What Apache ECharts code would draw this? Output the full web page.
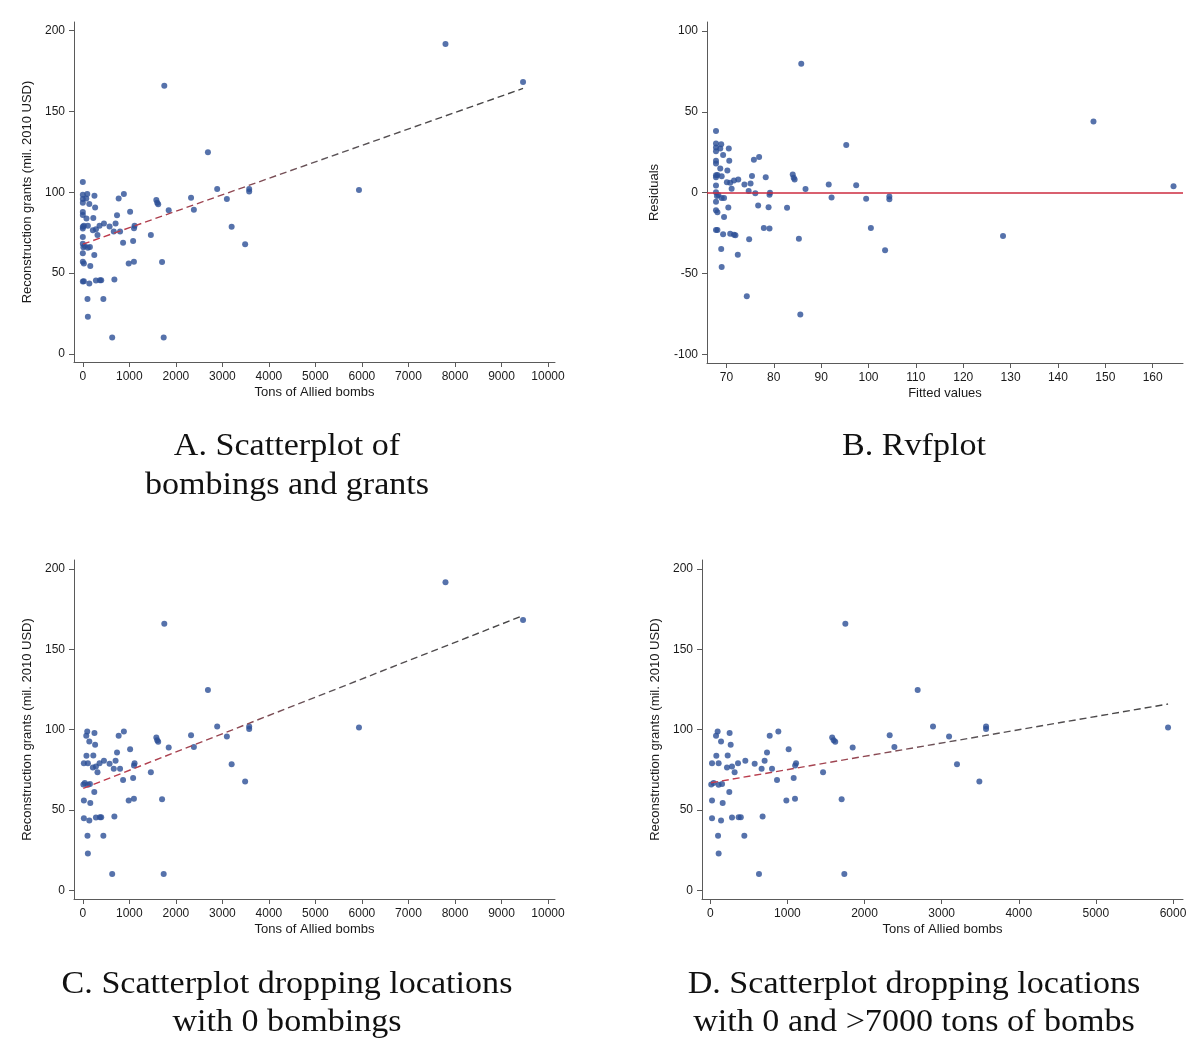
<!DOCTYPE html>
<html>
<head>
<meta charset="utf-8">
<title>Bombings and reconstruction grants</title>
<script src="https://cdn.jsdelivr.net/npm/echarts@6/dist/echarts.min.js"></script>
<style>
    html, body { margin: 0; padding: 0; background: #fff; }
    #chart { width: 1192px; height: 1038px; }
</style>
</head>
<body>
<div id="chart"></div>
<script>
(function (window, echarts) {
    'use strict';

    // grants (mil. 2010 USD) of locations with 0 tons of bombs
    const zeroGrants = [106.3, 98.5, 95.8, 93.5, 87.8, 85.9, 78.7, 77.5, 72.3, 68.2, 62.3, 57.0, 44.8];

    // bombed locations up to 7000 tons
    const bombTons = [95, 74, 250, 139, 264, 770, 882, 78, 225, 22, 108, 216, 281, 315, 359, 454,
        575, 665, 704, 735, 1016, 800, 865, 1112, 1100, 1081, 986, 1098, 43, 108, 152, 246, 22,
        160, 22, 139, 281, 367, 395, 678, 100, 441, 108, 631, 1738, 1462, 1580, 1600, 1620, 1846,
        1703, 1751, 2326, 2387, 2689, 2888, 3096, 3199, 3489, 3576, 3576, 5936, 12];
    const bombGrants = [98.9, 96.2, 97.9, 92.7, 90.6, 96.2, 98.9, 83.8, 84.0, 79.2, 79.2, 76.5, 77.1,
        73.6, 79.2, 80.7, 78.8, 75.7, 80.7, 85.8, 87.9, 75.7, 68.8, 79.2, 77.8, 69.9, 56.0, 57.0,
        66.8, 65.7, 66.2, 61.2, 56.0, 54.4, 45.0, 43.5, 45.4, 45.6, 45.6, 46.0, 34.0, 34.0, 23.0,
        10.2, 10.2, 73.6, 95.2, 93.5, 92.5, 88.9, 56.8, 165.9, 96.6, 89.2, 124.8, 102.0, 95.8,
        78.6, 67.8, 102.0, 100.4, 101.4, 66.0];

    // locations with more than 7000 tons
    const heavyTons = [7796, 9463];
    const heavyGrants = [191.7, 168.2];

    // fitted lines, end points
    const fitTonsA = [0, 9463];
    const fitGrantsA = [67.9, 164.2];
    const fitTonsC = [9, 9463];
    const fitGrantsC = [63.5, 171.0];
    const fitTonsD = [9, 5936];
    const fitGrantsD = [67.0, 116.0];

    // residuals versus fitted values (panel B)
    const rvfFitted = [85.8, 67.8, 67.8, 68.9, 67.8, 68.7, 70.5, 67.8, 69.3, 70.6, 67.8, 67.8, 68.7,
        70.2, 68.1, 69.0, 67.8, 67.8, 70.1, 70.8, 71.1, 71.6, 72.5, 73.8, 74.7, 75.1, 75.4, 75.8,
        76.9, 76.1, 76.7, 78.3, 79.2, 79.1, 78.9, 77.9, 79.1, 82.8, 84.0, 84.2, 84.4, 86.7, 91.6,
        92.2, 95.3, 97.4, 99.5, 100.5, 104.4, 104.4, 103.5, 85.3, 85.6, 74.3, 72.4, 74.8, 128.4,
        147.5, 164.4, 67.8, 67.8, 68.3, 69.0, 69.5, 70.4, 67.8, 68.1, 67.8, 69.5, 68.1, 67.8, 69.3,
        70.8, 71.6, 71.9, 68.9, 69.0, 68.0];
    const rvfResid = [79.8, 38.2, 30.4, 30.0, 27.9, 27.4, 27.4, 25.6, 23.3, 19.8, 19.8, 18.0, 15.0,
        13.7, 11.0, 10.2, 10.7, 9.5, 6.4, 6.2, 2.4, 7.5, 8.2, 5.0, 1.0, 5.6, 10.3, 20.3, 22.0, -0.4,
        -7.9, 9.5, 0.0, -1.3, -9.0, -21.9, -22.1, -9.3, 11.2, 9.3, 8.1, 2.2, 5.0, -3.0, 29.5, 4.6,
        -3.7, -21.9, -2.4, -4.0, -35.7, -28.5, -75.4, -64.1, -38.4, -28.8, -26.8, 44.1, 3.9, 4.4,
        0.3, -1.5, -3.3, -3.3, -9.2, -5.6, -12.1, -10.9, -15.1, -23.1, -23.1, -25.8, -25.4, -26.0,
        -26.3, -34.9, -46.0, -2.0];

    const grantTicks = [0, 50, 100, 150, 200];
    const tonTicks = [0, 1000, 2000, 3000, 4000, 5000, 6000, 7000, 8000, 9000, 10000];
    const tonTicksD = [0, 1000, 2000, 3000, 4000, 5000, 6000];
    const residTicks = [-100, -50, 0, 50, 100];
    const fittedTicks = [70, 80, 90, 100, 110, 120, 130, 140, 150, 160];

    const captions = [
        {x: 287, y: 447, text: 'A. Scatterplot of'},
        {x: 287, y: 486, text: 'bombings and grants'},
        {x: 914, y: 447, text: 'B. Rvfplot'},
        {x: 287, y: 985, text: 'C. Scatterplot dropping locations'},
        {x: 287, y: 1023, text: 'with 0 bombings'},
        {x: 914, y: 985, text: 'D. Scatterplot dropping locations'},
        {x: 914, y: 1023, text: 'with 0 and >7000 tons of bombs'}
    ];

    const zip = (xs, ys) => xs.map((x, i) => [x, ys[i]]);

    const zeroPoints = zeroGrants.map(g => [0, g]);
    const bombPoints = zip(bombTons, bombGrants);
    const heavyPoints = zip(heavyTons, heavyGrants);

    const axisColor = '#5a5a5a';
    const sansFont = 'Liberation Sans';
    const dotColor = '#2c4f96';

    // the fit line fades from red to dark grey, as in the source figure
    const fitGradient = {
        type: 'linear', x: 0, y: 0, x2: 1, y2: 0,
        colorStops: [
            {offset: 0, color: '#c8394b'},
            {offset: 0.3, color: '#9a4652'},
            {offset: 0.55, color: '#5c5458'},
            {offset: 1, color: '#444444'}
        ]
    };

    function makeAxis(gridIndex, min, max, ticks, name, nameGap) {
        return {
            type: 'value',
            gridIndex: gridIndex,
            min: min,
            max: max,
            name: name,
            nameLocation: 'middle',
            nameGap: nameGap,
            nameTextStyle: {fontFamily: sansFont, fontSize: 13, color: '#1a1a1a'},
            axisLine: {show: true, onZero: false, lineStyle: {color: axisColor, width: 1}},
            axisTick: {show: true, inside: false, length: 5, customValues: ticks,
                lineStyle: {color: axisColor, width: 1}},
            axisLabel: {customValues: ticks, fontFamily: sansFont, fontSize: 12, color: '#1a1a1a',
                margin: 9, formatter: v => String(v)},
            splitLine: {show: false}
        };
    }

    function scatter(index, data) {
        return {
            type: 'scatter',
            xAxisIndex: index,
            yAxisIndex: index,
            data: data,
            symbol: 'circle',
            symbolSize: 6,
            itemStyle: {color: dotColor},
            silent: true,
            z: 2
        };
    }

    function fitLine(index, xs, ys) {
        return {
            type: 'line',
            xAxisIndex: index,
            yAxisIndex: index,
            data: zip(xs, ys),
            symbol: 'none',
            lineStyle: {color: fitGradient, width: 1.4, type: [7, 4]},
            silent: true,
            z: 3
        };
    }

    const chart = echarts.init(document.getElementById('chart'), null, {renderer: 'canvas'});

    chart.setOption({
        backgroundColor: '#ffffff',
        animation: false,
        grid: [
            {left: 74, top: 22, width: 481, height: 340},
            {left: 707, top: 22, width: 476, height: 341},
            {left: 74, top: 560, width: 481, height: 339},
            {left: 702, top: 560, width: 481, height: 339}
        ],
        xAxis: [
            makeAxis(0, -190, 10150, tonTicks, 'Tons of Allied bombs', 24),
            makeAxis(1, 65.9, 166.4, fittedTicks, 'Fitted values', 24),
            makeAxis(2, -190, 10150, tonTicks, 'Tons of Allied bombs', 24),
            makeAxis(3, -108, 6130, tonTicksD, 'Tons of Allied bombs', 24)
        ],
        yAxis: [
            makeAxis(0, -5, 205.3, grantTicks, 'Reconstruction grants (mil. 2010 USD)', 40),
            makeAxis(1, -105.4, 105.6, residTicks, 'Residuals', 46),
            makeAxis(2, -5.3, 205.6, grantTicks, 'Reconstruction grants (mil. 2010 USD)', 40),
            makeAxis(3, -5.3, 205.6, grantTicks, 'Reconstruction grants (mil. 2010 USD)', 40)
        ],
        series: [
            scatter(0, zeroPoints.concat(bombPoints, heavyPoints)),
            fitLine(0, fitTonsA, fitGrantsA),
            scatter(1, zip(rvfFitted, rvfResid)),
            {
                type: 'line',
                xAxisIndex: 1,
                yAxisIndex: 1,
                data: [],
                silent: true,
                markLine: {
                    silent: true,
                    symbol: 'none',
                    label: {show: false},
                    lineStyle: {color: '#cc2b3f', width: 1.5, type: 'solid'},
                    data: [{yAxis: 0}]
                },
                z: 3
            },
            scatter(2, bombPoints.concat(heavyPoints)),
            fitLine(2, fitTonsC, fitGrantsC),
            scatter(3, bombPoints),
            fitLine(3, fitTonsD, fitGrantsD)
        ],
        // serif captions, stretched a little to the width of the original typeface
        graphic: captions.map(c => ({
            type: 'text',
            x: c.x,
            y: c.y,
            scaleX: 1.1,
            silent: true,
            style: {
                text: c.text,
                fill: '#111111',
                font: '31px "Liberation Serif"',
                textAlign: 'center',
                textVerticalAlign: 'middle'
            }
        }))
    });

})(window, echarts);
</script>
</body>
</html>
